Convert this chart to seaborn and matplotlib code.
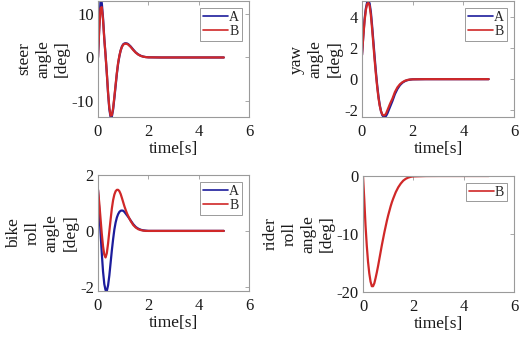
import matplotlib
matplotlib.use("Agg")
import matplotlib.pyplot as plt
import seaborn as sns

# sample times [s]
time = [0.0, 0.05, 0.1, 0.15, 0.2, 0.25, 0.3, 0.35, 0.4, 0.45, 0.5, 0.55, 0.6,
        0.65, 0.7, 0.75, 0.8, 0.85, 0.9, 0.95, 1.0, 1.05, 1.1, 1.15, 1.2,
        1.3, 1.4, 1.5, 1.6, 1.7, 1.8, 1.9, 2.0, 2.5, 3.0, 3.5, 4.0, 4.5, 5.0]

# steer angle [deg]
steer_A = [0, 7.0, 12.9, 12.5, 9.0, 4.3, 0.6, -3.6, -8.2, -11.8, -13.6, -13.5, -11.9,
           -9.3, -6.5, -3.7, -1.4, 0.3, 1.6, 2.5, 3.0, 3.2, 3.25, 3.2, 3.05,
           2.5, 1.8, 1.15, 0.7, 0.38, 0.2, 0.09, 0.04, 0, 0, 0, 0, 0, 0]
steer_B = [0, 6.5, 11.3, 11.5, 8.6, 4.2, 0.5, -3.5, -8.0, -11.5, -13.3, -13.2, -11.6,
           -9.0, -6.2, -3.5, -1.2, 0.4, 1.6, 2.4, 2.9, 3.1, 3.15, 3.1, 2.95,
           2.4, 1.7, 1.1, 0.65, 0.35, 0.18, 0.08, 0.03, 0, 0, 0, 0, 0, 0]

# yaw angle [deg]
yaw_A = [1.55, 2.75, 3.8, 4.5, 4.9, 5.0, 4.85, 4.3, 3.4, 2.4, 1.4, 0.45, -0.4,
         -1.1, -1.65, -2.05, -2.3, -2.4, -2.42, -2.35, -2.2, -2.0, -1.8, -1.6, -1.4,
         -0.95, -0.62, -0.38, -0.22, -0.12, -0.06, -0.03, -0.01, 0, 0, 0, 0, 0, 0]
yaw_B = [1.55, 2.7, 3.7, 4.4, 4.8, 4.88, 4.7, 4.1, 3.2, 2.2, 1.2, 0.3, -0.5,
         -1.2, -1.7, -2.05, -2.25, -2.32, -2.3, -2.2, -2.0, -1.8, -1.6, -1.42, -1.25,
         -0.82, -0.52, -0.32, -0.19, -0.1, -0.05, -0.02, -0.01, 0, 0, 0, 0, 0, 0]

# bike roll angle [deg]
bike_A = [1.47, 0.75, -0.05, -0.8, -1.45, -1.9, -2.12, -2.15, -1.95, -1.6, -1.15, -0.7, -0.3,
          0.05, 0.3, 0.48, 0.6, 0.68, 0.72, 0.73, 0.72, 0.68, 0.62, 0.56, 0.5,
          0.37, 0.24, 0.14, 0.08, 0.04, 0.02, 0.01, 0, 0, 0, 0, 0, 0, 0]
bike_B = [1.47, 1.0, 0.45, -0.1, -0.55, -0.85, -0.95, -0.8, -0.45, -0.02, 0.4, 0.8, 1.1,
          1.3, 1.42, 1.47, 1.47, 1.42, 1.32, 1.18, 1.03, 0.88, 0.75, 0.63, 0.53,
          0.35, 0.21, 0.12, 0.06, 0.03, 0.01, 0, 0, 0, 0, 0, 0, 0, 0]

# rider roll angle [deg]
rider_B = [0, -4.0, -8.5, -12.0, -14.8, -16.8, -18.2, -19.0, -19.0, -18.5, -17.6, -16.6, -15.5,
           -14.3, -13.1, -11.9, -10.8, -9.7, -8.7, -7.7, -6.8, -6.0, -5.2, -4.5, -3.9,
           -2.8, -1.95, -1.3, -0.8, -0.48, -0.27, -0.14, -0.07, -0.01, 0, 0, 0, 0, 0]

labels = ["steer\nangle\n[deg]", "yaw\nangle\n[deg]",
          "bike\nroll\nangle\n[deg]", "rider\nroll\nangle\n[deg]"]
yticks = [[-10, 0, 10], [-2, 0, 2, 4], [-2, 0, 2], [-20, -10, 0]]
xticks = [0, 2, 4, 6]

BLUE = "#1c1c9c"
RED = "#d02828"
FRAME = "#9a9a9a"
TEXT = "#1a1a1a"

sns.set_theme(style="white")
plt.rcParams["font.family"] = ["Liberation Serif", "DejaVu Serif"]
plt.rcParams["axes.unicode_minus"] = False

W, H = 524, 340
fig = plt.figure(figsize=(W / 100, H / 100), dpi=100)


def make_axes(left, right, top, bottom):
    return fig.add_axes([left / W, 1 - bottom / H, (right - left) / W, (bottom - top) / H])


axes = [make_axes(98, 249, 1, 117), make_axes(362, 514, 1, 117),
        make_axes(98, 249, 175, 291), make_axes(363, 514, 176, 292)]

series = [[(steer_A, "A", BLUE), (steer_B, "B", RED)],
          [(yaw_A, "A", BLUE), (yaw_B, "B", RED)],
          [(bike_A, "A", BLUE), (bike_B, "B", RED)],
          [(rider_B, "B", RED)]]

for i, ax in enumerate(axes):
    for vals, name, col in series[i]:
        sns.lineplot(x=time, y=vals, ax=ax, color=col, label=name, lw=1.6)
    allv = [v for vals, _, _ in series[i] for v in vals]
    if i == 2:
        ax.set_ylim(min(allv), 2)
    elif i == 3:
        ax.set_ylim(-20, 0)
    else:
        ax.set_ylim(min(allv), max(allv))
    ax.set_xlim(0, 6)
    ax.set_xticks(xticks)
    ax.set_yticks(yticks[i])
    ax.set_xlabel("time[s]", fontsize=12.5, labelpad=1, color=TEXT)
    ax.set_ylabel(labels[i], fontsize=12.5, linespacing=1.25, labelpad=1, color=TEXT)
    ax.tick_params(direction="in", length=3, width=0.6, color=FRAME, top=True, right=True,
                   labelsize=12, labelcolor=TEXT)
    ax.tick_params(axis="x", pad=5)
    ax.tick_params(axis="y", pad=3)
    for sp in ax.spines.values():
        sp.set_color(FRAME)
        sp.set_linewidth(0.8)
    leg = ax.legend(loc="upper right", fontsize=10, frameon=True, fancybox=False,
                    edgecolor=FRAME, framealpha=1, handlelength=1.8, handletextpad=0.1,
                    borderpad=0.2, labelspacing=0.1, borderaxespad=0.5)
    leg.get_frame().set_linewidth(0.7)
    for ln in leg.get_lines():
        ln.set_linewidth(1.2)

fig.savefig("out.png", dpi=100)
